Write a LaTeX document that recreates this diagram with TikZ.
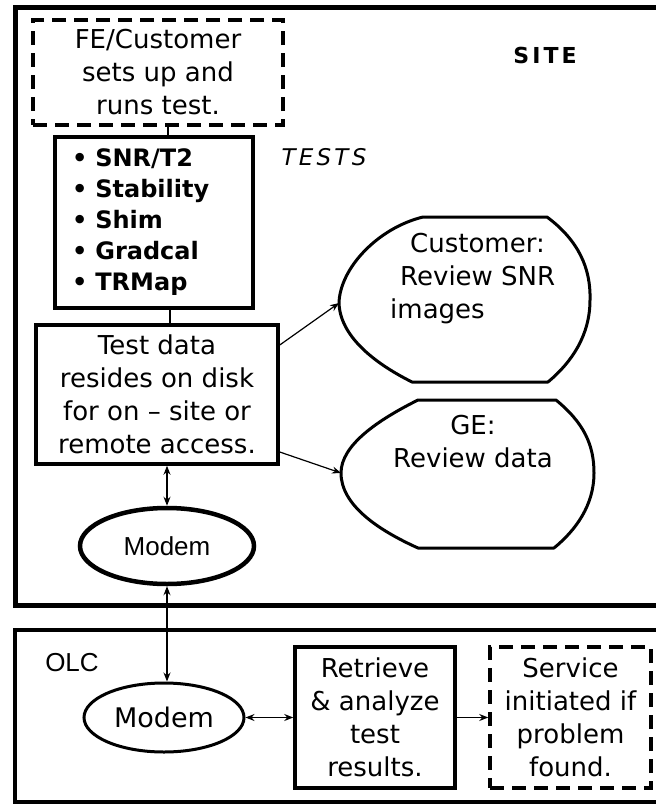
\documentclass[tikz,border=0pt]{standalone}
\usepackage{fontspec}
\setmainfont{DejaVu Sans}
\newfontfamily\arialfont{Liberation Sans}
\newfontfamily\widesansfont[LetterSpace=14]{DejaVu Sans}
\usetikzlibrary{shapes.geometric,arrows.meta}
\newcommand\gtxt{\fontsize{26}{33}\selectfont}
\begin{document}
\begin{tikzpicture}[x=1pt,y=-1pt,
  frame/.style={draw, line width=5pt},
  box/.style={draw, rectangle, line width=3.5pt, inner sep=0pt, align=center, font=\gtxt},
  dbox/.style={box, dash pattern=on 14pt off 8pt},
  conn/.style={line width=1.2pt},
  tip/.tip={Stealth[length=9pt,width=7pt]},
  arr/.style={conn, -tip},
  darr/.style={conn, tip-tip},
  blob/.style={draw, line width=3pt, line join=round},
  modem/.style={draw, ellipse, inner sep=0pt},
  lbl/.style={inner sep=0pt}
]
\useasboundingbox (0,0) rectangle (656,806);
\fill[white] (0,0) rectangle (656,806);
\clip (0,0) rectangle (656,806);

% frames
\draw[frame] (15,7.5) rectangle (720,605);
\draw[frame, line width=4.5pt] (15,630) rectangle (720,802);

% site nodes
\node[dbox, minimum width=250pt, minimum height=105pt] (fe) at (158,72.5)
  {FE/Customer\\sets up and\\runs test.};
\node[box, text width=164pt, inner xsep=17pt, minimum height=171pt, align=left,
  font=\fontsize{24}{31}\selectfont\bfseries] (tests) at (154,222.5)
  {\textbullet\ SNR/T2\\\textbullet\ Stability\\\textbullet\ Shim\\\textbullet\ Gradcal\\\textbullet\ TRMap};
\node[box, minimum width=242pt, minimum height=139pt] (data) at (157,394.5)
  {Test data\\resides on disk\\for on – site or\\remote access.};
\node[modem, line width=4.5pt, minimum width=174pt, minimum height=76pt,
  font=\arialfont\fontsize{26}{30}\selectfont] (modemA) at (167,546) {Modem};

% blobs
\path[blob] (423,217) -- (547,217) .. controls (578,240) and (591,268) .. (590,300)
  .. controls (590,335) and (572,362) .. (548,382) -- (412,382)
  .. controls (372,362) and (340,335) .. (339,303)
  .. controls (340,268) and (378,228) .. (423,217) -- cycle;
\coordinate (custW) at (339,303);
\node[lbl, anchor=north west, align=left, font=\gtxt] (custtext) at (390,233)
  {\hspace*{20pt}Customer:\\\hspace*{10pt}Review SNR\\images};

\path[blob] (418,400) -- (556,400) .. controls (584,423) and (594,445) .. (594,473)
  .. controls (594,505) and (576,530) .. (554,548) -- (418,548)
  .. controls (378,530) and (341,505) .. (341,473)
  .. controls (341,445) and (378,420) .. (418,400) -- cycle;
\coordinate (geW) at (341,473);
\node[lbl, anchor=north, align=center, font=\gtxt] (getext) at (473,415)
  {GE:\\Review data};

% labels
\node[lbl, font=\widesansfont\bfseries\fontsize{22}{26}\selectfont] (site) at (545,55) {SITE};
\node[lbl, font=\widesansfont\itshape\fontsize{23}{26}\selectfont] (testslbl) at (324,157) {TESTS};
\node[lbl, font=\arialfont\fontsize{26}{30}\selectfont] (olc) at (72,663) {OLC};

% OLC nodes
\node[modem, line width=3pt, minimum width=160pt, minimum height=69pt,
  font=\fontsize{27}{30}\selectfont] (modemB) at (164,717.5) {Modem};
\node[box, minimum width=160pt, minimum height=141pt] (retrieve) at (375,717.5)
  {Retrieve\\\& analyze\\test\\results.};
\node[dbox, minimum width=161pt, minimum height=141pt] (service) at (570.5,717.5)
  {Service\\initiated if\\problem\\found.};

% connectors
\draw[conn] ([xshift=10pt]fe.south) -- ([xshift=10pt]fe.south |- tests.north);
\draw[conn] ([xshift=16pt]tests.south) -- ([xshift=16pt]tests.south |- data.north);
\draw[darr] (modemA.north |- data.south) -- (modemA.north);
\draw[arr] ([yshift=49.5pt]data.east) -- (custW);
\draw[arr] ([yshift=-57.5pt]data.east) -- (geW);
\draw[darr] (modemA.south) -- (modemA.south |- modemB.north);
\draw[darr] (modemB.east) -- (retrieve.west |- modemB.east);
\draw[arr] (retrieve.east) -- (service.west);
\end{tikzpicture}
\end{document}
